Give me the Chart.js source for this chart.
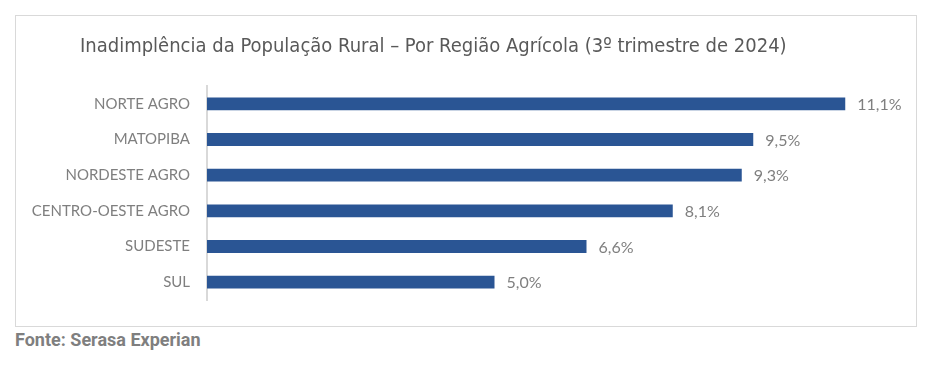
<!DOCTYPE html>
<html lang="pt-BR">
<head>
<meta charset="utf-8">
<script src="https://cdn.jsdelivr.net/npm/chart.js@4"></script>
<style>
  html, body { margin: 0; padding: 0; background: #fff; }
  body { width: 948px; height: 366px; position: relative; overflow: hidden; }
  .box { position: absolute; left: 15px; top: 15px; width: 900px; height: 310px; border: 1px solid #d9d9d9; }
  .box canvas { display: block; }
  .titulo { position: absolute; left: 64px; top: 17px; font: 20px "Liberation Sans Narrow", "DejaVu Sans Condensed", sans-serif; color: #595959; white-space: nowrap; }
  .fonte { position: absolute; left: 15px; top: 329px; font: bold 18px Roboto, sans-serif; color: #7f7f7f; }
</style>
</head>
<body>
<div class="box">
  <canvas id="chart" width="900" height="310"></canvas>
  <div class="titulo" id="titulo"></div>
</div>
<div class="fonte">Fonte: Serasa Experian</div>
<script>
const regioes = ['NORTE AGRO', 'MATOPIBA', 'NORDESTE AGRO', 'CENTRO-OESTE AGRO', 'SUDESTE', 'SUL'];
const inadimplencia = [11.1, 9.5, 9.3, 8.1, 6.6, 5.0];
const titulo = 'Inadimplência da População Rural – Por Região Agrícola (3º trimestre de 2024)';

document.getElementById('titulo').textContent = titulo;

// rótulos de valor ao lado de cada barra
const valueLabels = {
  id: 'valueLabels',
  afterDatasetsDraw(chart) {
    const { ctx } = chart;
    const meta = chart.getDatasetMeta(0);
    ctx.save();
    ctx.font = '16px Lato, sans-serif';
    ctx.fillStyle = '#7f7f7f';
    ctx.textBaseline = 'middle';
    ctx.textAlign = 'left';
    meta.data.forEach((bar, i) => {
      const txt = inadimplencia[i].toFixed(1).replace('.', ',') + '%';
      ctx.fillText(txt, bar.x + 12, bar.y + 1);
    });
    ctx.restore();
  }
};

new Chart(document.getElementById('chart'), {
  type: 'bar',
  data: {
    labels: regioes,
    datasets: [{
      data: inadimplencia,
      backgroundColor: '#2a5594',
      barPercentage: 0.36,
      categoryPercentage: 1
    }]
  },
  plugins: [valueLabels],
  options: {
    indexAxis: 'y',
    responsive: false,
    animation: false,
    layout: { padding: { left: 0, right: 19, bottom: 24, top: 70 } },
    plugins: {
      legend: { display: false },
      tooltip: { enabled: false },
      title: { display: false }
    },
    scales: {
      x: { display: false, min: 0, max: 12 },
      y: {
        grid: { display: false, drawTicks: false },
        border: { display: true, color: '#d9d9d9', width: 2 },
        ticks: {
          color: '#7f7f7f',
          padding: 17,
          font: { family: 'Lato, sans-serif', size: 15 }
        },
        afterFit(scale) { scale.width = 191; }
      }
    }
  }
});
</script>
</body>
</html>
